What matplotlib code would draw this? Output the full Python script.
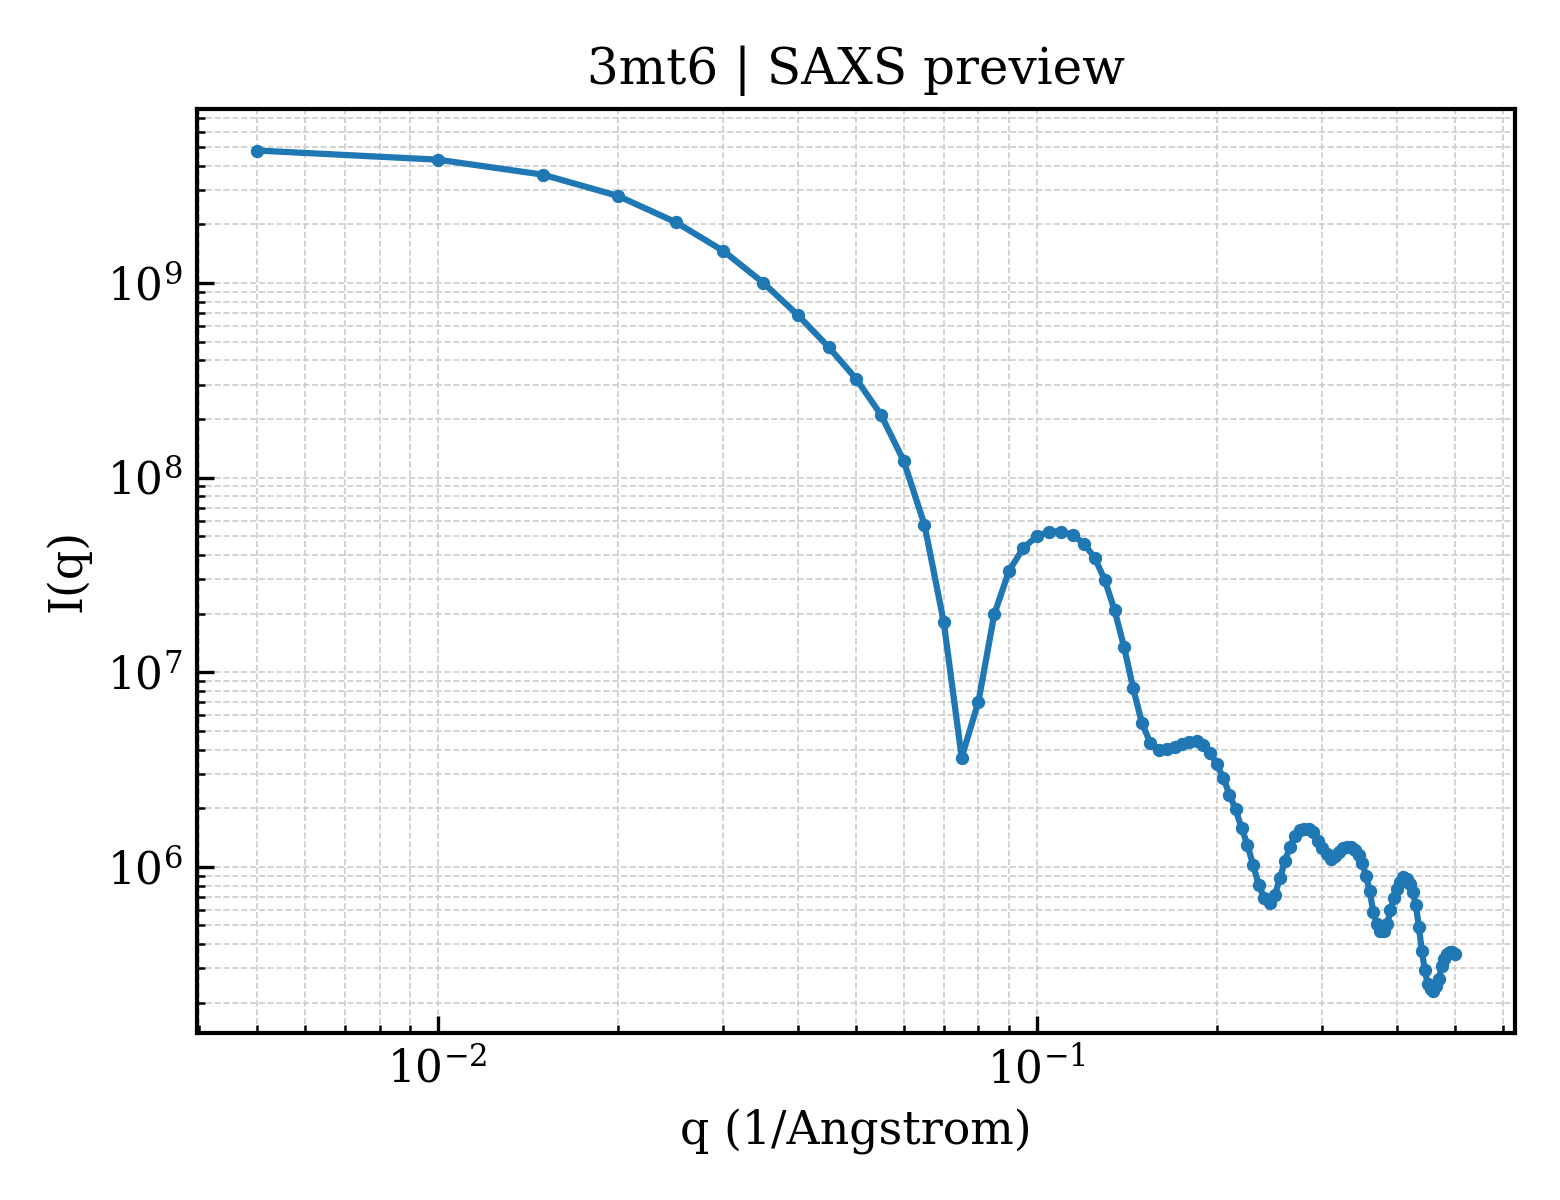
import numpy as np
import matplotlib
matplotlib.use("Agg")
import matplotlib.pyplot as plt

q = [0.005, 0.01, 0.015, 0.02, 0.025, 0.03, 0.035, 0.04, 0.045, 0.05,
     0.055, 0.06, 0.065, 0.07, 0.075, 0.08, 0.085, 0.09, 0.095, 0.1,
     0.105, 0.11, 0.115, 0.12, 0.125, 0.13, 0.135, 0.14, 0.145, 0.15,
     0.155, 0.16, 0.165, 0.17, 0.175, 0.18, 0.185, 0.19, 0.195, 0.2,
     0.205, 0.21, 0.215, 0.22, 0.225, 0.23, 0.235, 0.24, 0.245, 0.25,
     0.255, 0.26, 0.265, 0.27, 0.275, 0.28, 0.285, 0.29, 0.295, 0.3,
     0.305, 0.31, 0.315, 0.32, 0.325, 0.33, 0.335, 0.34, 0.345, 0.35,
     0.355, 0.36, 0.365, 0.37, 0.375, 0.38, 0.385, 0.39, 0.395, 0.4,
     0.405, 0.41, 0.415, 0.42, 0.425, 0.43, 0.435, 0.44, 0.445, 0.45,
     0.455, 0.46, 0.465, 0.47, 0.475, 0.48, 0.485, 0.49, 0.495, 0.5]

intensity = [4.79e9, 4.30e9, 3.60e9, 2.80e9, 2.05e9, 1.46e9, 1.00e9, 6.81e8, 4.67e8, 3.21e8,
             2.10e8, 1.22e8, 5.72e7, 1.81e7, 3.64e6, 7.06e6, 1.98e7, 3.32e7, 4.33e7, 4.98e7,
             5.28e7, 5.28e7, 5.08e7, 4.56e7, 3.88e7, 2.98e7, 2.08e7, 1.35e7, 8.27e6, 5.47e6,
             4.31e6, 3.99e6, 4.02e6, 4.13e6, 4.26e6, 4.35e6, 4.44e6, 4.23e6, 3.86e6, 3.36e6,
             2.87e6, 2.35e6, 1.97e6, 1.58e6, 1.30e6, 1.02e6, 8.07e5, 6.89e5, 6.54e5, 7.16e5,
             8.74e5, 1.07e6, 1.27e6, 1.43e6, 1.55e6, 1.57e6, 1.56e6, 1.50e6, 1.36e6, 1.25e6,
             1.16e6, 1.10e6, 1.13e6, 1.19e6, 1.25e6, 1.26e6, 1.26e6, 1.22e6, 1.15e6, 1.04e6,
             9.01e5, 7.51e5, 5.88e5, 5.09e5, 4.65e5, 4.70e5, 5.07e5, 5.97e5, 6.89e5, 7.64e5,
             8.34e5, 8.89e5, 8.67e5, 8.12e5, 7.39e5, 6.34e5, 4.90e5, 3.69e5, 2.94e5, 2.51e5,
             2.36e5, 2.29e5, 2.45e5, 2.66e5, 3.09e5, 3.35e5, 3.54e5, 3.66e5, 3.65e5, 3.58e5]

title = "3mt6 | SAXS preview"
xlabel = "q (1/Angstrom)"
ylabel = "I(q)"

plt.rcParams["font.family"] = ["DejaVu Serif"]
plt.rcParams["mathtext.fontset"] = "dejavuserif"

fig, ax = plt.subplots(figsize=(5.2, 4.0), dpi=300)
ax.plot(q, intensity, "-o", color="#1f77b4", lw=1.5, ms=2.2)
ax.set_xscale("log")
ax.set_yscale("log")
ax.set_title(title, fontsize=12)
ax.set_xlabel(xlabel, fontsize=11)
ax.set_ylabel(ylabel, fontsize=11)
ax.tick_params(which="both", direction="in", top=False, right=False, labelsize=10.5)
ax.tick_params(which="major", length=4)
for s in ax.spines.values():
    s.set_linewidth(1.0)
ax.grid(True, which="both", ls="--", lw=0.4, color="#cccccc")
fig.tight_layout()
fig.savefig("out.png", dpi=300)
